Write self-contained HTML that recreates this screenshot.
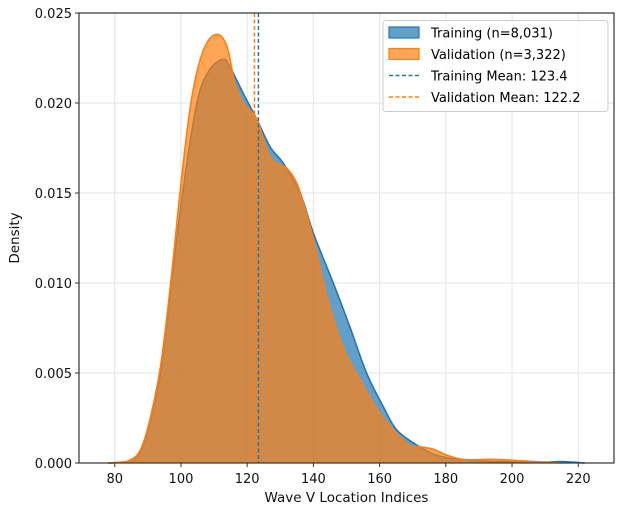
<!DOCTYPE html>
<html><head><meta charset="utf-8"><style>
body{margin:0;background:#fff;}
svg{display:block;font-family:"DejaVu Sans","Liberation Sans",sans-serif;}
</style></head><body>
<svg id="chart" width="624" height="514" viewBox="0 0 624 514" xmlns="http://www.w3.org/2000/svg">
<g id="grid"></g>
<g id="series"></g>
<g id="axes"></g>
<g id="legend">
 <rect x="383" y="20.5" width="225" height="91" rx="3" fill="#fff" fill-opacity="0.85" stroke="#ccc"/>
 <g><rect x="389" y="27" width="30" height="11" fill="#1f77b4" fill-opacity="0.7" stroke="#1f77b4" stroke-width="1.2"/><text x="431" y="37.5" font-size="13">Training (n=8,031)</text></g>
 <g><rect x="389" y="48.5" width="30" height="11" fill="#ff7f0e" fill-opacity="0.7" stroke="#ff7f0e" stroke-width="1.2"/><text x="431" y="59" font-size="13">Validation (n=3,322)</text></g>
 <g><line x1="389" x2="419" y1="75.5" y2="75.5" stroke="#1f77b4" stroke-width="1.5" stroke-dasharray="4,2.5"/><text x="431" y="80.5" font-size="13">Training Mean: 123.4</text></g>
 <g><line x1="389" x2="419" y1="97" y2="97" stroke="#ff7f0e" stroke-width="1.5" stroke-dasharray="4,2.5"/><text x="431" y="102" font-size="13">Validation Mean: 122.2</text></g>
</g>
</svg>
<script>
const xTicks=[80,100,120,140,160,180,200,220];
const yTicks=[0,0.005,0.010,0.015,0.020,0.025];
const yTickLabels=["0.000","0.005","0.010","0.015","0.020","0.025"];
const trainX=[78,84,88.6,93.8,97,100.5,104.8,108.5,112.7,114.8,118.9,122.9,126.9,130.9,136,140,146,151,156.1,161.1,165.2,171.2,176.3,181.3,190,200,210,215,222];
const trainY=[0,0.0001,0.001,0.005,0.0098,0.015,0.020,0.0218,0.02243,0.0220,0.0205,0.0191,0.01757,0.01665,0.0150,0.01276,0.0100,0.00757,0.00498,0.00313,0.00183,0.0010,0.0005,0.00026,0.00012,0.00006,0.00005,0.00008,0];
const valX=[78,84,88.6,93.5,96.9,99.7,103,106.5,110.4,113.8,116.3,118.9,122.9,126.9,132,135,137,139.5,144,149,154.1,160.1,168.2,172.2,176.3,180.3,185.3,195,205,215];
const valY=[0,0.0001,0.0011,0.005,0.010,0.015,0.020,0.0228,0.0238,0.0232,0.0211,0.0200,0.0191,0.0170,0.01637,0.01554,0.01443,0.0128,0.0093,0.00640,0.00461,0.00276,0.00109,0.00091,0.00076,0.00044,0.0002,0.0002,0.0001,0];
const trainMean=123.4, valMean=122.2;
const X0=79,X1=614,Y0=463,Y1=13,XMIN=69.2,XMAX=230.8,YMAX=0.025;
const sx=v=>X0+(v-XMIN)/(XMAX-XMIN)*(X1-X0);
const sy=v=>Y0-v/YMAX*(Y0-Y1);
const NS="http://www.w3.org/2000/svg";
function mk(tag,attrs,parent){const e=document.createElementNS(NS,tag);for(const k in attrs)e.setAttribute(k,attrs[k]);parent.appendChild(e);return e;}
const grid=document.getElementById('grid'),axes=document.getElementById('axes'),series=document.getElementById('series');
xTicks.forEach(t=>{
 const g=mk('line',{x1:sx(t),x2:sx(t),y1:Y1,y2:Y0,stroke:'#e3e3e3','stroke-width':1},grid);
 
 
 const tk=mk('line',{x1:sx(t),x2:sx(t),y1:Y0,y2:Y0+4,stroke:'#333','stroke-width':1},axes);
 
 
 const tx=mk('text',{x:sx(t),y:Y0+20,'text-anchor':'middle','font-size':'13',fill:'#111'},axes);
 tx.textContent=t;
 
 
});
yTicks.forEach((t,i)=>{
 const g=mk('line',{x1:X0,x2:X1,y1:sy(t),y2:sy(t),stroke:'#e3e3e3','stroke-width':1},grid);
 
 
 const tk=mk('line',{x1:X0-4,x2:X0,y1:sy(t),y2:sy(t),stroke:'#333','stroke-width':1},axes);
 
 
 const tx=mk('text',{x:X0-7,y:sy(t)+5,'text-anchor':'end','font-size':'13',fill:'#111'},axes);
 tx.textContent=yTickLabels[i];
 
 
});
function pathD(xs,ys){
 const p=xs.map((x,i)=>[sx(x),sy(ys[i])]);
 let d='M'+p[0][0]+','+p[0][1];
 for(let i=0;i<p.length-1;i++){
  const a=p[i-1]||p[i],b=p[i],c=p[i+1],e=p[i+2]||c;
  const c1=[b[0]+(c[0]-a[0])/6,b[1]+(c[1]-a[1])/6],c2=[c[0]-(e[0]-b[0])/6,c[1]-(e[1]-b[1])/6];
  c1[1]=Math.min(c1[1],Y0);c2[1]=Math.min(c2[1],Y0);
  d+=' C'+c1[0]+','+c1[1]+' '+c2[0]+','+c2[1]+' '+c[0]+','+c[1];
 }
 return d;
}
function area(xs,ys,col,name){
 const d=pathD(xs,ys);
 const f=mk('path',{d:d+' L'+sx(xs[xs.length-1])+','+Y0+' L'+sx(xs[0])+','+Y0+' Z',fill:col,'fill-opacity':0.7,stroke:'none'},series);
 
 
 const l=mk('path',{d:d,fill:'none',stroke:col,'stroke-width':1.6},series);
 
 
}
area(trainX,trainY,'#1f77b4','training-density');
area(valX,valY,'#ff7f0e','validation-density');
const m1=mk('line',{x1:sx(valMean),x2:sx(valMean),y1:Y1,y2:Y0,stroke:'#ff7f0e','stroke-width':1.5,'stroke-dasharray':'4,2.5'},series);


const m2=mk('line',{x1:sx(trainMean),x2:sx(trainMean),y1:Y1,y2:Y0,stroke:'#1f77b4','stroke-width':1.5,'stroke-dasharray':'4,2.5'},series);


const fr=mk('rect',{x:X0,y:Y1,width:X1-X0,height:Y0-Y1,fill:'none',stroke:'#333','stroke-width':1.2},axes);


const xt=mk('text',{x:(X0+X1)/2,y:502,'text-anchor':'middle','font-size':'13.5',fill:'#111'},axes);
xt.textContent='Wave V Location Indices';


const yt=mk('text',{x:0,y:0,'text-anchor':'middle','font-size':'13.5',fill:'#111',transform:'translate(19,'+((Y0+Y1)/2)+') rotate(-90)'},axes);
yt.textContent='Density';


</script>
</body></html>
